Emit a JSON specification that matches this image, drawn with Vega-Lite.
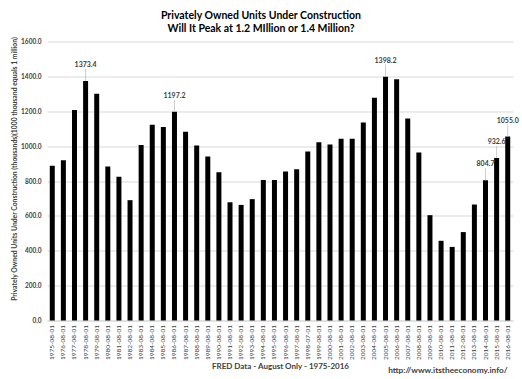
{
  "$schema": "https://vega.github.io/schema/vega-lite/v6.json",
  "width": 466,
  "height": 279,
  "autosize": {"type": "none"},
  "padding": {"left": 47, "top": 41.5, "right": 9, "bottom": 58.5},
  "background": "white",
  "title": {
    "text": ["Privately Owned Units Under Construction", "Will It Peak at 1.2 MIllion or 1.4 Million?"],
    "font": "Lato",
    "fontSize": 10.5,
    "fontWeight": "bold",
    "color": "#000000",
    "anchor": "middle",
    "dx": -19,
    "offset": 2,
    "lineHeight": 12.5
  },
  "data": {
    "values": [
      {"date": "1975-08-01", "value": 888},
      {"date": "1976-08-01", "value": 919},
      {"date": "1977-08-01", "value": 1207},
      {"date": "1978-08-01", "value": 1373.4, "label": "1373.4"},
      {"date": "1979-08-01", "value": 1301},
      {"date": "1980-08-01", "value": 883},
      {"date": "1981-08-01", "value": 825},
      {"date": "1982-08-01", "value": 690},
      {"date": "1983-08-01", "value": 1007},
      {"date": "1984-08-01", "value": 1123},
      {"date": "1985-08-01", "value": 1110},
      {"date": "1986-08-01", "value": 1197.2, "label": "1197.2"},
      {"date": "1987-08-01", "value": 1083},
      {"date": "1988-08-01", "value": 1003},
      {"date": "1989-08-01", "value": 940},
      {"date": "1990-08-01", "value": 850},
      {"date": "1991-08-01", "value": 678},
      {"date": "1992-08-01", "value": 663},
      {"date": "1993-08-01", "value": 696},
      {"date": "1994-08-01", "value": 806},
      {"date": "1995-08-01", "value": 806},
      {"date": "1996-08-01", "value": 854},
      {"date": "1997-08-01", "value": 868},
      {"date": "1998-07-01", "value": 969},
      {"date": "1999-08-01", "value": 1022},
      {"date": "2000-08-01", "value": 1009},
      {"date": "2001-08-01", "value": 1043},
      {"date": "2002-08-01", "value": 1043},
      {"date": "2003-08-01", "value": 1135},
      {"date": "2004-08-01", "value": 1278},
      {"date": "2005-08-01", "value": 1398.2, "label": "1398.2"},
      {"date": "2006-08-01", "value": 1383},
      {"date": "2007-08-01", "value": 1158},
      {"date": "2008-08-01", "value": 963},
      {"date": "2009-08-01", "value": 604},
      {"date": "2010-08-01", "value": 457},
      {"date": "2011-08-01", "value": 422},
      {"date": "2012-08-01", "value": 507},
      {"date": "2013-08-01", "value": 665},
      {"date": "2014-08-01", "value": 804.7, "label": "804.7"},
      {"date": "2015-08-01", "value": 932.6, "label": "932.6"},
      {"date": "2016-08-01", "value": 1055.0, "label": "1055.0"}
    ]
  },
  "encoding": {
    "x": {
      "field": "date",
      "type": "nominal",
      "sort": null,
      "scale": {"paddingInner": 0.55, "paddingOuter": 0.25},
      "axis": {
        "title": "FRED Data - August Only - 1975-2016",
        "titleFont": "Lato",
        "titleFontSize": 8,
        "titleFontWeight": "bold",
        "titleColor": "#404040",
        "titlePadding": 3,
        "labelAngle": -90,
        "labelFont": "Lato",
        "labelFontSize": 6.5,
        "labelColor": "#404040",
        "labelPadding": 4,
        "ticks": false,
        "domain": true,
        "domainColor": "#d9d9d9",
        "grid": false
      }
    },
    "y": {
      "field": "value",
      "type": "quantitative",
      "scale": {"domain": [0, 1600], "nice": false},
      "axis": {
        "values": [0, 200, 400, 600, 800, 1000, 1200, 1400, 1600],
        "format": ".1f",
        "title": "Privately Owned Units Under Construction (thousands)(1000 thousand equals 1 million)",
        "titleFont": "Lato",
        "titleFontSize": 6.8,
        "titleFontWeight": "bold",
        "titleColor": "#404040",
        "titleY": 127,
        "titlePadding": 3,
        "labelFont": "Lato",
        "labelFontSize": 6.5,
        "labelFontWeight": "bold",
        "labelColor": "#404040",
        "labelPadding": 6,
        "ticks": false,
        "domain": false,
        "grid": true,
        "gridColor": "#d9d9d9",
        "gridWidth": 1
      }
    }
  },
  "layer": [
    {
      "mark": {"type": "bar", "color": "#000000"}
    },
    {
      "transform": [{"filter": "datum.label"}],
      "mark": {"type": "rule", "color": "#bfbfbf", "strokeWidth": 0.8, "y2Offset": -12},
      "encoding": {
        "y2": {"field": "value"}
      }
    },
    {
      "transform": [{"filter": "datum.label"}],
      "mark": {"type": "text", "font": "Lato", "fontSize": 7, "fontWeight": "bold", "color": "#404040", "baseline": "bottom", "dy": -13},
      "encoding": {
        "text": {"field": "label"}
      }
    },
    {
      "data": {"values": [{"date": "2016-08-01", "zero": 0, "t": "http://www.itstheeconomy.info/"}]},
      "mark": {"type": "text", "font": "Lato", "fontSize": 8.3, "fontWeight": "bold", "color": "#404040", "align": "right", "baseline": "middle", "dy": 50, "clip": false},
      "encoding": {
        "x": {"field": "date", "type": "nominal", "sort": null},
        "y": {"field": "zero", "type": "quantitative"},
        "text": {"field": "t"}
      }
    }
  ],
  "config": {
    "view": {"stroke": null},
    "font": "Lato"
  }
}
